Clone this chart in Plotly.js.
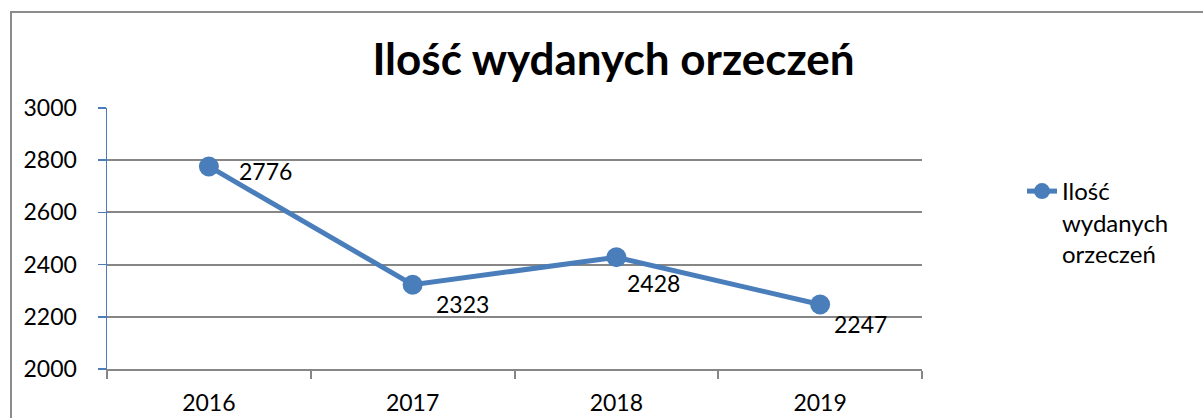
<!DOCTYPE html>
<html>
<head>
<meta charset="utf-8">
<script src="https://cdn.plot.ly/plotly-3.0.1.min.js"></script>
<style>
  html, body { margin: 0; padding: 0; background: #ffffff; overflow: hidden; }
  #wrap { position: relative; width: 1203px; height: 418px; overflow: hidden; }
  #frame { position: absolute; left: 10px; top: 11px; width: 1300px; height: 500px;
           border: 2px solid #8c8c8c; box-sizing: border-box; pointer-events: none; }
  #chart { position: absolute; left: 0; top: 0; width: 1203px; height: 418px; }
</style>
</head>
<body>
<div id="wrap">
  <div id="chart"></div>
  <div id="frame"></div>
</div>
<script>
// ---- data ----
const years = ["2016", "2017", "2018", "2019"];
const values = [2776, 2323, 2428, 2247];
const seriesName = "Ilość<br>wydanych<br>orzeczeń";
const chartTitle = "Ilość wydanych orzeczeń";
const yTicks = [2000, 2200, 2400, 2600, 2800, 3000];

// ---- styling of data labels (offsets in px from each point) ----
const labelDx = [28, 21, 9, 12];
const labelDy = [5, 19, 26, 19];

const FONT = "Lato, 'Liberation Sans', sans-serif";
const BLUE = "#4a7ebb";
const GRAY = "#868686";

const trace = {
  type: "scatter",
  mode: "lines+markers",
  x: years,
  y: values,
  name: seriesName,
  line: { color: BLUE, width: 5 },
  marker: { color: BLUE, size: 20 },
  hoverinfo: "x+y"
};

const annotations = years.map((yr, i) => ({
  x: years.indexOf(yr), y: values[i], xref: "x", yref: "y",
  text: String(values[i]),
  showarrow: false,
  xanchor: "left", yanchor: "middle",
  xshift: labelDx[i], yshift: -labelDy[i],
  font: { family: FONT, size: 23, color: "#000000" }
}));

const layout = {
  width: 1203, height: 418,
  margin: { l: 106.5, r: 280.5, t: 108, b: 48.5, pad: 0 },
  paper_bgcolor: "rgba(0,0,0,0)",
  plot_bgcolor: "rgba(0,0,0,0)",
  font: { family: FONT, size: 23, color: "#000000" },
  title: {
    text: chartTitle,
    font: { family: FONT, size: 44, color: "#000000", weight: "bold" },
    xref: "container", yref: "container",
    x: 613.5 / 1203, xanchor: "center",
    y: 1 - 60 / 418, yanchor: "middle"
  },
  xaxis: {
    type: "category",
    categoryorder: "array", categoryarray: years,
    range: [-0.5, years.length - 0.5],
    showline: true, linecolor: GRAY, linewidth: 2,
    ticks: "outside", tickson: "boundaries", ticklen: 8, tickwidth: 2, tickcolor: GRAY,
    showgrid: false, zeroline: false,
    ticklabelstandoff: 12,
    tickfont: { family: FONT, size: 23, color: "#000000" },
    fixedrange: true
  },
  yaxis: {
    range: [2000, 3000],
    tickvals: yTicks,
    ticktext: yTicks.map(String),
    showline: true, linecolor: BLUE, linewidth: 1.5,
    ticks: "outside", ticklen: 8, tickwidth: 1.5, tickcolor: BLUE,
    showgrid: true, gridcolor: GRAY, gridwidth: 2,
    zeroline: false,
    ticklabelstandoff: 16,
    tickfont: { family: FONT, size: 23, color: "#000000" },
    fixedrange: true
  },
  showlegend: true,
  legend: {
    xref: "container", yref: "container",
    x: 1022 / 1203, xanchor: "left",
    y: 1 - 169 / 418, yanchor: "top",
    valign: "top",
    font: { family: FONT, size: 24, color: "#000000" },
    bgcolor: "rgba(0,0,0,0)",
    borderwidth: 0
  },
  annotations: annotations
};

Plotly.newPlot("chart", [trace], layout, { displayModeBar: false, staticPlot: true });
</script>
</body>
</html>
